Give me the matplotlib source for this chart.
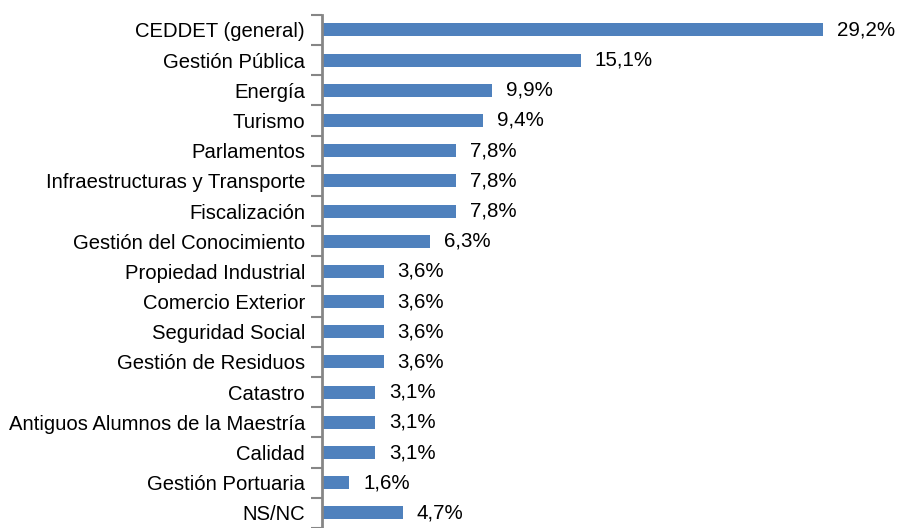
import matplotlib
matplotlib.use("Agg")
import matplotlib.pyplot as plt
from matplotlib import font_manager as fm

categories = ["CEDDET (general)", "Gestión Pública", "Energía", "Turismo", "Parlamentos",
              "Infraestructuras y Transporte", "Fiscalización", "Gestión del Conocimiento",
              "Propiedad Industrial", "Comercio Exterior", "Seguridad Social",
              "Gestión de Residuos", "Catastro", "Antiguos Alumnos de la Maestría",
              "Calidad", "Gestión Portuaria", "NS/NC"]
values = [29.2, 15.1, 9.9, 9.4, 7.8, 7.8, 7.8, 6.3, 3.6, 3.6, 3.6, 3.6, 3.1, 3.1, 3.1, 1.6, 4.7]
value_labels = ["29,2%", "15,1%", "9,9%", "9,4%", "7,8%", "7,8%", "7,8%", "6,3%", "3,6%",
                "3,6%", "3,6%", "3,6%", "3,1%", "3,1%", "3,1%", "1,6%", "4,7%"]

names = {f.name for f in fm.fontManager.ttflist}
fam = "Liberation Sans Narrow" if "Liberation Sans Narrow" in names else "Liberation Sans"
plt.rcParams['font.family'] = [fam, 'DejaVu Sans']

W, H = 899, 528
fig = plt.figure(figsize=(W / 100, H / 100), dpi=100)
ax_left = 322 / W
ax_top = 1 - 14.8 / H
ax = fig.add_axes([ax_left, 0, 1 - ax_left, ax_top])

n = len(categories)
ypos = list(range(n))
ax.barh(ypos, values, height=0.43, color="#4F81BD")
for y, v, lab in zip(ypos, values, value_labels):
    ax.text(v + 0.8, y, lab, va="center", ha="left", fontsize=14.8, color="black")

px_per = 17.16
ax.set_xlim(0, (W - 322) / px_per)
spacing = 30.375
ax.set_ylim(n - 0.5 - (531 - 528) / spacing, -0.5)

ax.set_yticks(ypos)
ax.set_yticklabels(categories, fontsize=14.6)
ax.tick_params(axis="y", which="major", length=0, pad=12.2)
ax.set_yticks([i - 0.5 for i in range(n + 1)], minor=True)
ax.tick_params(axis="y", which="minor", length=8, width=1.5, color="#868686")
ax.set_xticks([])

for s in ["top", "right", "bottom"]:
    ax.spines[s].set_visible(False)
ax.spines["left"].set_color("#868686")
ax.spines["left"].set_linewidth(2)

fig.savefig("out.png", dpi=100)
